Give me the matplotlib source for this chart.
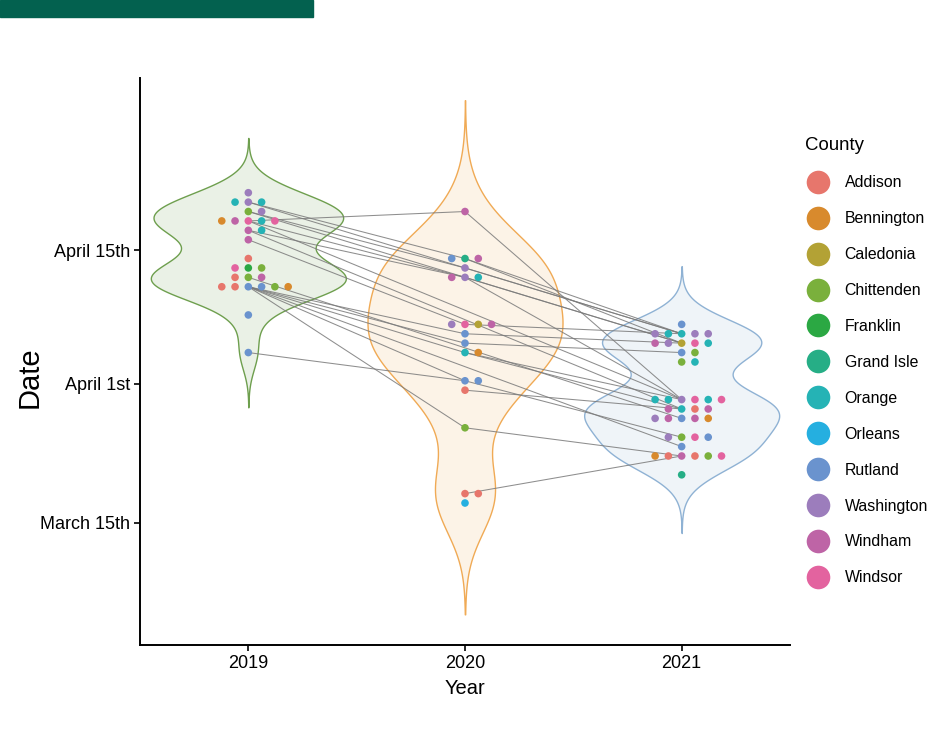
import numpy as np
import matplotlib
matplotlib.use("Agg")
import matplotlib.pyplot as plt
from matplotlib.lines import Line2D
from matplotlib.patches import Rectangle
from matplotlib.colors import to_rgba

plt.rcParams["font.family"] = ["Liberation Sans", "DejaVu Sans"]

# --- data (days relative to April 1st) ---------------------------------------
COUNTIES = ["Addison", "Bennington", "Caledonia", "Chittenden", "Franklin", "Grand Isle",
            "Orange", "Orleans", "Rutland", "Washington", "Windham", "Windsor"]
COUNTY_COLORS = ["#E7766C", "#D88A2D", "#B3A235", "#7AB03C", "#2BA843", "#26AE86",
                 "#25B3B5", "#25AFE0", "#6A93CE", "#9C7DBC", "#BE64A6", "#E3639F"]

YEARS = [2019, 2020, 2021]
VIOLIN_EDGE = ["#6E9F4E", "#F0AA55", "#8FB2D4"]

DOTS_2019 = [
    (20, ["Washington"]),
    (19, ["Orange", "Washington", "Orange"]),
    (18, ["Chittenden", "Washington"]),
    (17, ["Bennington", "Windham", "Windsor", "Orange", "Windsor"]),
    (16, ["Windham", "Orange"]),
    (15, ["Windham"]),
    (13, ["Addison"]),
    (12, ["Windsor", "Franklin", "Chittenden"]),
    (11, ["Addison", "Chittenden", "Windham"]),
    (10, ["Addison", "Addison", "Rutland", "Rutland", "Chittenden", "Bennington"]),
    (7, ["Rutland"]),
    (3, ["Rutland"]),
]
DOTS_2020 = [
    (18, ["Windham"]),
    (13, ["Rutland", "Grand Isle", "Windham"]),
    (12, ["Washington"]),
    (11, ["Windham", "Washington", "Orange"]),
    (6, ["Washington", "Windsor", "Caledonia", "Windham"]),
    (5, ["Rutland"]),
    (4, ["Rutland"]),
    (3, ["Orange", "Bennington"]),
    (0, ["Rutland", "Rutland"]),
    (-1, ["Addison"]),
    (-5, ["Chittenden"]),
    (-12, ["Addison", "Addison"]),
    (-13, ["Orleans"]),
]
DOTS_2021 = [
    (6, ["Rutland"]),
    (5, ["Washington", "Orange", "Orange", "Washington", "Washington"]),
    (4, ["Windham", "Washington", "Caledonia", "Windsor", "Orange"]),
    (3, ["Rutland", "Chittenden"]),
    (2, ["Chittenden", "Orange"]),
    (-2, ["Orange", "Orange", "Washington", "Windsor", "Orange", "Windsor"]),
    (-3, ["Windham", "Orange", "Addison", "Windham"]),
    (-4, ["Washington", "Windham", "Rutland", "Windham", "Bennington"]),
    (-6, ["Washington", "Chittenden", "Windsor", "Rutland"]),
    (-7, ["Rutland"]),
    (-8, ["Bennington", "Addison", "Windham", "Addison", "Chittenden", "Windsor"]),
    (-10, ["Grand Isle"]),
]

# same site sampled in two years: (year_a, day_a, year_b, day_b)
LINKS = [
    (2019, 17, 2020, 18), (2019, 19, 2020, 13), (2019, 18, 2020, 12), (2019, 17, 2020, 11),
    (2019, 16, 2020, 11), (2019, 15, 2020, 6), (2019, 10, 2020, 5), (2019, 10, 2020, 4),
    (2019, 10, 2020, 3), (2019, 10, 2020, 0), (2019, 10, 2020, -5), (2019, 3, 2020, 0),
    (2019, 19, 2021, 5), (2019, 18, 2021, 4), (2019, 17, 2021, -2), (2019, 16, 2021, -3),
    (2019, 11, 2021, -4), (2019, 10, 2021, -7),
    (2020, 18, 2021, -2), (2020, 13, 2021, 5), (2020, 13, 2021, 4), (2020, 12, 2021, 5),
    (2020, 11, 2021, 4), (2020, 11, 2021, -2), (2020, 6, 2021, 5), (2020, 5, 2021, 4),
    (2020, 4, 2021, 3), (2020, 3, 2021, -2), (2020, 3, 2021, -3), (2020, 0, 2021, -6),
    (2020, -1, 2021, -3), (2020, -5, 2021, -8), (2020, -12, 2021, -8),
]

TICK_DAYS = [-15.1, -0.3, 13.9]
TICK_LABELS = ["March 15th", "April 1st", "April 15th"]

DOTS = {2019: DOTS_2019, 2020: DOTS_2020, 2021: DOTS_2021}
color_of = dict(zip(COUNTIES, COUNTY_COLORS))
xpos = {y: i + 1 for i, y in enumerate(YEARS)}


def bw_nrd0(v):
    v = np.asarray(v, float)
    iqr = np.subtract(*np.percentile(v, [75, 25]))
    return 0.9 * min(v.std(ddof=1), iqr / 1.34) * len(v) ** -0.2


def kde(v, grid, bw):
    z = (grid[:, None] - v[None, :]) / bw
    return np.exp(-0.5 * z ** 2).sum(1) / (len(v) * bw * np.sqrt(2 * np.pi))


fig = plt.figure(figsize=(9.34, 7.30), dpi=100)
fig.patches.append(Rectangle((0, 1 - 17 / 730), 313 / 934, 17 / 730, transform=fig.transFigure,
                             color="#03614F", zorder=0))
ax = fig.add_axes([140 / 934, 85 / 730, 650 / 934, 567 / 730])

# violins (trim = FALSE, scale = "width")
for (year, edge) in zip(YEARS, VIOLIN_EDGE):
    vals = np.array([d for d, cs in DOTS[year] for _ in cs], float)
    bw = bw_nrd0(vals)
    grid = np.linspace(vals.min() - 3 * bw, vals.max() + 3 * bw, 512)
    dens = kde(vals, grid, bw)
    half = dens / dens.max() * 0.45
    x0 = xpos[year]
    ax.fill_betweenx(grid, x0 - half, x0 + half, facecolor=to_rgba(edge, 0.14),
                     edgecolor=edge, lw=1.0, zorder=1)

# connecting lines
for ya, da, yb, db in LINKS:
    ax.plot([xpos[ya], xpos[yb]], [da, db], color="#7a7a7a", lw=0.75, alpha=0.85, zorder=2)

# dot plot, stackdir = "centerwhole"
step = 0.0613
for year in YEARS:
    for day, cs in DOTS[year]:
        n = len(cs)
        offs = np.arange(n) - (n - 1) // 2
        ax.scatter(xpos[year] + offs * step, np.full(n, day), s=30,
                   c=[color_of[c] for c in cs], edgecolors="none", zorder=3)

ax.set_xlim(0.5, 3.5)
ax.set_ylim(-28.1, 32.2)
ax.set_xticks([1, 2, 3], [str(y) for y in YEARS])
ax.set_yticks(TICK_DAYS, TICK_LABELS)
ax.tick_params(labelsize=13, length=4, width=1.2, color="black", pad=3)
for s in ["top", "right"]:
    ax.spines[s].set_visible(False)
for s in ["left", "bottom"]:
    ax.spines[s].set_linewidth(1.4)
ax.set_xlabel("Year", fontsize=14.5, labelpad=5.5)
ax.set_ylabel("Date", fontsize=21)
ax.yaxis.set_label_coords(-0.149, 0.473)

handles = [Line2D([], [], marker="o", ls="", markersize=17, color=c, markeredgecolor="none")
           for c in COUNTY_COLORS]
leg = ax.legend(handles, COUNTIES, title="County", loc="upper left", frameon=False,
                bbox_to_anchor=(805 / 934, 1 - 137.5 / 730), bbox_transform=fig.transFigure,
                fontsize=11.4, title_fontsize=13.4, labelspacing=1.32, handlelength=1.6,
                handletextpad=0.9, borderaxespad=0, borderpad=0)
leg._legend_box.align = "left"

fig.savefig("out.png", dpi=100, facecolor="white")
